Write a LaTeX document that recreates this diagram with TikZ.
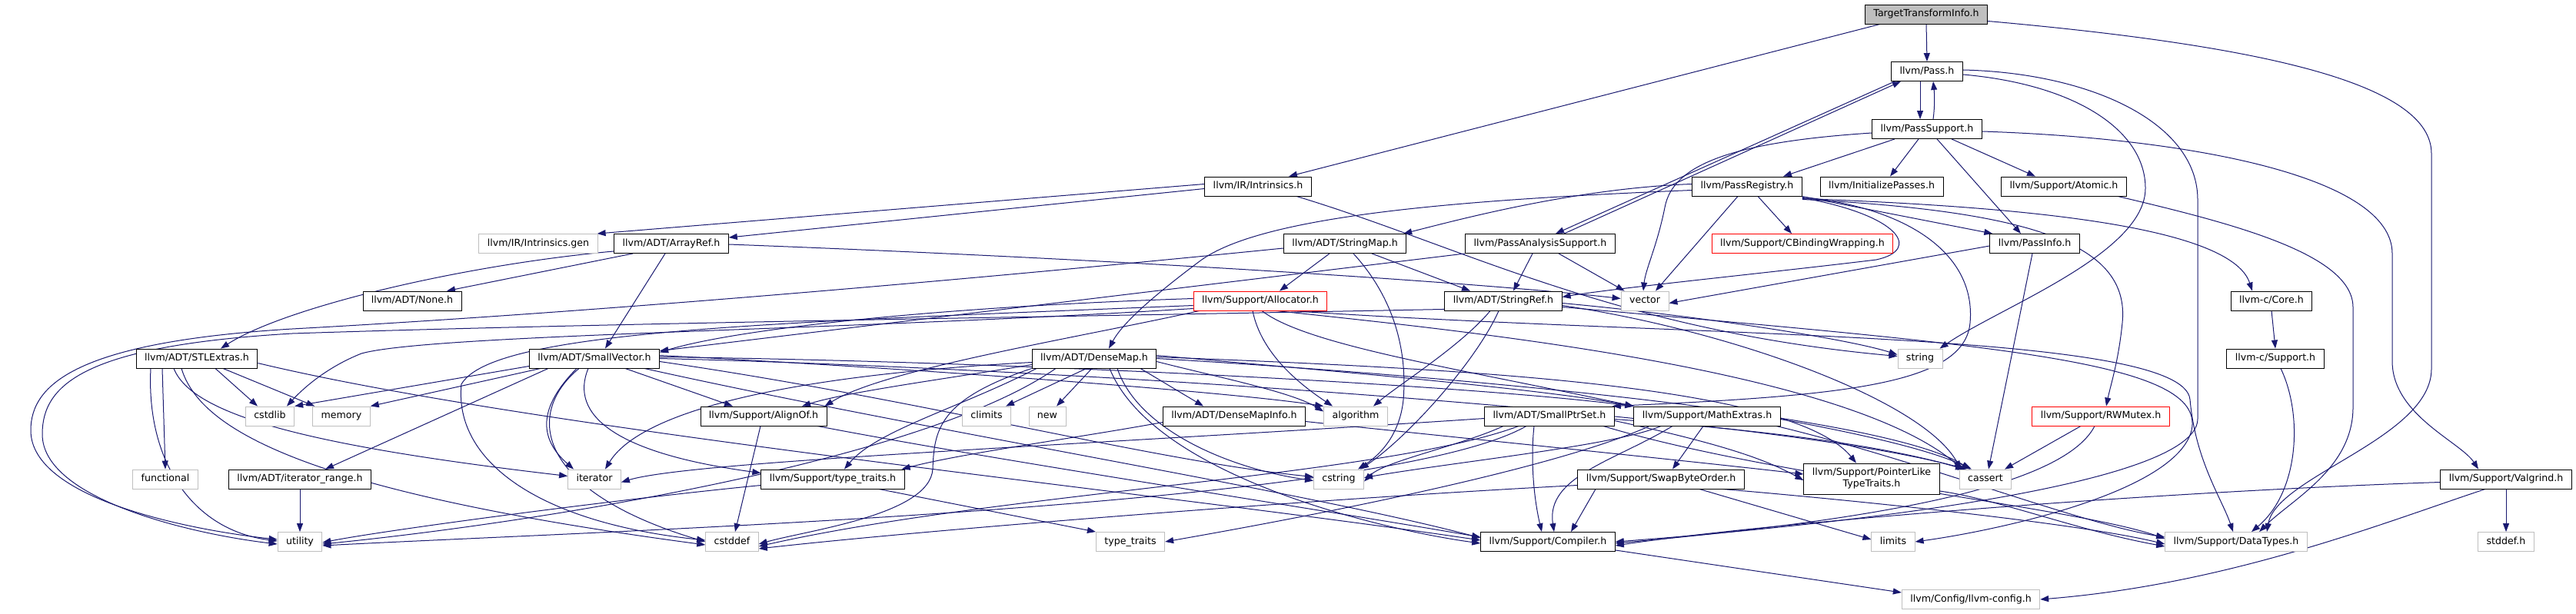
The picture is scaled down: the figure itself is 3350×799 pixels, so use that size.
\documentclass[tikz,border=0pt]{standalone}
\usepackage{fontspec}
\setmainfont{DejaVu Sans}
\usetikzlibrary{arrows.meta}
\definecolor{navy}{HTML}{191970}
\definecolor{sysgray}{HTML}{BFBFBF}
\pgfdeclarelayer{background}
\pgfsetlayers{background,main}
\tikzset{
  nodebase/.style={draw=black, line width=0.9pt, fill=white, inner xsep=11pt, inner ysep=0pt,
    minimum height=25pt, font=\fontsize{12.6}{15}\selectfont},
  nbox/.style={nodebase, text height=9.4pt, text depth=2.8pt},
  sbox/.style={nbox, draw=sysgray},
  rbox/.style={nbox, draw=red},
  e/.style={draw=navy, line width=1pt, -{Triangle[length=11pt,width=8pt]}}
}
\begin{document}
\begin{tikzpicture}[x=1pt,y=-1pt]
\useasboundingbox (0,0) rectangle (3350,799);
% nodes
\node[nbox, fill=sysgray] (tti) at (2505,18.5) {TargetTransformInfo.h};
\node[nbox] (pass) at (2506,93) {llvm/Pass.h};
\node[nbox] (passsupport) at (2506,168) {llvm/PassSupport.h};
\node[nbox] (intrinsics) at (1636,242.5) {llvm/IR/Intrinsics.h};
\node[nbox] (passregistry) at (2272,242.5) {llvm/PassRegistry.h};
\node[nbox] (initpasses) at (2447,242.5) {llvm/InitializePasses.h};
\node[nbox] (atomic) at (2684,242.5) {llvm/Support/Atomic.h};
\node[sbox] (intrgen) at (700,317) {llvm/IR/Intrinsics.gen};
\node[nbox] (arrayref) at (873,317) {llvm/ADT/ArrayRef.h};
\node[nbox] (stringmap) at (1749,317) {llvm/ADT/StringMap.h};
\node[nbox] (passanalysis) at (2003,317) {llvm/PassAnalysisSupport.h};
\node[rbox] (cbinding) at (2344,317) {llvm/Support/CBindingWrapping.h};
\node[nbox] (passinfo) at (2646,317) {llvm/PassInfo.h};
\node[nbox] (none) at (536,391.5) {llvm/ADT/None.h};
\node[rbox] (allocator) at (1639,391.5) {llvm/Support/Allocator.h};
\node[nbox] (stringref) at (1955,391.5) {llvm/ADT/StringRef.h};
\node[sbox] (vector) at (2139,391.5) {vector};
\node[nbox] (corec) at (2954,391.5) {llvm-c/Core.h};
\node[nbox] (stlextras) at (256,466.5) {llvm/ADT/STLExtras.h};
\node[nbox] (smallvector) at (773,466.5) {llvm/ADT/SmallVector.h};
\node[nbox] (densemap) at (1423,466.5) {llvm/ADT/DenseMap.h};
\node[sbox] (string) at (2497,466.5) {string};
\node[nbox] (supportc) at (2959,466.5) {llvm-c/Support.h};
\node[sbox] (cstdlib) at (351,541.5) {cstdlib};
\node[sbox] (memory) at (444,541.5) {memory};
\node[nbox] (alignof) at (993,541.5) {llvm/Support/AlignOf.h};
\node[sbox] (climits) at (1283,541.5) {climits};
\node[sbox] (new) at (1362,541.5) {new};
\node[nbox] (densemapinfo) at (1605,541.5) {llvm/ADT/DenseMapInfo.h};
\node[sbox] (algorithm) at (1763,541.5) {algorithm};
\node[nbox] (smallptrset) at (2015,541.5) {llvm/ADT/SmallPtrSet.h};
\node[nbox] (mathextras) at (2220,541.5) {llvm/Support/MathExtras.h};
\node[rbox] (rwmutex) at (2732,541.5) {llvm/Support/RWMutex.h};
\node[sbox] (functional) at (215,623.5) {functional};
\node[nbox] (iterrange) at (390,623.5) {llvm/ADT/iterator\_range.h};
\node[sbox] (iterator) at (773,623.5) {iterator};
\node[nbox] (typetraitsh) at (1083,623.5) {llvm/Support/type\_traits.h};
\node[sbox] (cstring) at (1741,623.5) {cstring};
\node[nbox] (swapbyte) at (2160,623.5) {llvm/Support/SwapByteOrder.h};
\node[nodebase, align=center, minimum height=40pt] (pointerlike) at (2434,623) {llvm/Support/PointerLike\\TypeTraits.h};
\node[sbox] (cassert) at (2582,623.5) {cassert};
\node[nbox] (valgrind) at (3259,623.5) {llvm/Support/Valgrind.h};
\node[sbox] (utility) at (390,705) {utility};
\node[sbox] (cstddef) at (952,705) {cstddef};
\node[sbox] (typetraits) at (1470,705) {type\_traits};
\node[nbox] (compiler) at (2013,705) {llvm/Support/Compiler.h};
\node[sbox] (limits) at (2462,705) {limits};
\node[sbox] (datatypes) at (2908,705) {llvm/Support/DataTypes.h};
\node[sbox] (stddef) at (3259,705) {stddef.h};
\node[sbox] (llvmconfig) at (2563,780) {llvm/Config/llvm-config.h};
\begin{pgfonlayer}{background}
\fill[white] (0,0) rectangle (3350,799);
% TargetTransformInfo
\draw[e] ([xshift=-60]tti.south) -- ([xshift=40]intrinsics.north);
\draw[e] (tti.south) -- (pass.north);
\draw[e] ([yshift=-9]tti.east) .. controls (2950,60) and (3162,110) .. (3162,200) -- (3162,480) .. controls (3162,570) and (2960,620) .. ([xshift=40]datatypes.north);
% Pass
\draw[e] ([xshift=-9]pass.south) -- ([xshift=-9]passsupport.north);
\draw[e] ([xshift=8]passsupport.north) .. controls (2516,140) and (2516,125) .. ([xshift=8]pass.south);
\draw[e] ([xshift=-42]pass.south) -- ([xshift=20]passanalysis.north);
\draw[e] ([xshift=31]passanalysis.north) -- ([xshift=-34]pass.south);
\draw[e] ([yshift=-4]pass.east) .. controls (2700,110) and (2790,170) .. (2790,245) .. controls (2790,330) and (2600,400) .. ([xshift=-4]string.north east);
\draw[e] ([yshift=2]pass.east) .. controls (2720,95) and (2858,160) .. (2858,260) -- (2858,545) .. controls (2858,640) and (2300,690) .. (compiler.east);
% PassSupport
\draw[e] ([xshift=-42]passsupport.south) -- ([xshift=47]passregistry.north);
\draw[e] ([xshift=-11]passsupport.south) -- ([xshift=11]initpasses.north);
\draw[e] ([xshift=13]passsupport.south) -- ([xshift=-18]passinfo.north);
\draw[e] ([xshift=32]passsupport.south) -- ([xshift=-37]atomic.north);
\draw[e] ([yshift=-3]passsupport.east) .. controls (2850,180) and (3111,230) .. (3111,330) -- (3111,470) .. controls (3111,540) and (3200,575) .. ([xshift=-36]valgrind.north);
\draw[e] ([yshift=-5]passsupport.west) .. controls (2250,185) and (2175,215) .. (2165,270) .. controls (2155,320) and (2140,350) .. ([xshift=-2]vector.north);
% Intrinsics
\draw[e] ([yshift=3]intrinsics.west) -- ([xshift=-1]intrgen.north east);
\draw[e] ([yshift=-3]intrinsics.west) -- ([yshift=-5]arrayref.north east);
\draw[e] ([xshift=50]intrinsics.south) .. controls (1900,320) and (2100,430) .. ([yshift=3]string.west);
% ArrayRef
\draw[e] ([xshift=-50]arrayref.south) -- ([xshift=45]none.north);
\draw[e] ([xshift=-8]arrayref.south) -- ([xshift=14]smallvector.north);
\draw[e] ([yshift=-1]arrayref.east) .. controls (1400,335) and (1900,365) .. ([yshift=3]vector.west);
\draw[e] ([yshift=3]arrayref.south west) .. controls (600,345) and (370,400) .. ([xshift=31]stlextras.north);
% StringMap
\draw[e] ([xshift=-20]stringmap.south) -- ([xshift=25]allocator.north);
\draw[e] ([xshift=35]stringmap.south) -- ([xshift=-43]stringref.north);
\draw[e] ([xshift=11]stringmap.south) .. controls (1815,390) and (1830,460) .. (1825,520) .. controls (1820,570) and (1790,595) .. ([xshift=25]cstring.north);
\draw[e] ([yshift=-6]stringmap.west) .. controls (1300,360) and (800,405) .. (380,428) .. controls (100,445) and (40,500) .. (40,560) .. controls (40,650) and (250,690) .. ([yshift=3]utility.west);
% PassAnalysisSupport
\draw[e] ([xshift=-10]passanalysis.south) -- ([xshift=13]stringref.north);
\draw[e] (passanalysis.south west) -- ([yshift=-3]smallvector.north east);
\draw[e] ([xshift=24]passanalysis.south) -- ([xshift=5]vector.north west);
% PassRegistry
\draw[e] ([xshift=14]passregistry.south) -- ([xshift=-14]cbinding.north);
\draw[e] ([xshift=-12]passregistry.south) -- ([xshift=14]vector.north);
\draw[e] ([xshift=-1]passregistry.south east) -- ([xshift=4]passinfo.north west);
\draw[e] ([yshift=3]passregistry.west) .. controls (2050,245) and (1900,285) .. ([xshift=-4]stringmap.north east);
\draw[e] ([yshift=-5]passregistry.west) .. controls (1900,260) and (1640,280) .. (1560,340) .. controls (1500,385) and (1460,420) .. ([xshift=19]densemap.north);
\draw[e] ([yshift=-3]passregistry.south east) .. controls (2600,268) and (2900,290) .. ([xshift=-25]corec.north);
\draw[e] ([yshift=-4]passregistry.south east) .. controls (2650,275) and (2770,320) .. (2760,420) .. controls (2755,470) and (2745,500) .. ([xshift=7]rwmutex.north);
\draw[e] ([yshift=-2]passregistry.south east) .. controls (2470,280) and (2500,325) .. (2440,338) .. controls (2300,355) and (2100,375) .. ([yshift=5]stringref.east);
\draw[e] ([yshift=-1]passregistry.south east) .. controls (2480,270) and (2570,330) .. (2562,420) .. controls (2555,500) and (2400,515) .. ([xshift=-3]smallptrset.north east);
% PassInfo
\draw[e] ([yshift=-3]passinfo.west) -- ([yshift=-3]vector.east);
\draw[e] ([xshift=-3]passinfo.south) -- ([xshift=4]cassert.north);
% Atomic, C API
\draw[e] ([xshift=70]atomic.south) .. controls (2900,290) and (3060,330) .. (3060,400) -- (3060,530) .. controls (3060,610) and (2980,650) .. ([xshift=30]datatypes.north);
\draw[e] (corec.south) -- (supportc.north);
\draw[e] ([xshift=7]supportc.south) .. controls (2995,540) and (2990,640) .. ([xshift=20]datatypes.north);
% Allocator
\draw[e] ([yshift=3]allocator.west) .. controls (1200,400) and (950,430) .. ([yshift=-5]smallvector.north east);
\draw[e] ([xshift=8]allocator.south west) .. controls (1400,440) and (1150,480) .. ([xshift=-3]alignof.north east);
\draw[e] ([xshift=-10]allocator.south) .. controls (1640,460) and (1690,500) .. ([xshift=-30]algorithm.north);
\draw[e] ([xshift=2]allocator.south) .. controls (1700,450) and (1900,480) .. (mathextras.north west);
\draw[e] ([xshift=20]allocator.south) .. controls (1900,430) and (2400,480) .. ([xshift=-30]cassert.north);
\draw[e] ([xshift=40]allocator.south) .. controls (2200,440) and (2840,430) .. (2848,520) .. controls (2855,600) and (2890,650) .. ([xshift=-4]datatypes.north);
\draw[e] ([yshift=-6]allocator.west) .. controls (1000,420) and (640,430) .. (600,500) .. controls (590,600) and (700,680) .. ([yshift=2]cstddef.west);
\draw[e] ([yshift=-10]allocator.west) .. controls (1100,430) and (560,435) .. (470,460) .. controls (420,480) and (390,510) .. ([xshift=22]cstdlib.north);
% SmallVector
\draw[e] ([yshift=-10]smallvector.west) -- (cstdlib.north east);
\draw[e] ([xshift=-70]smallvector.south) -- (memory.north east);
\draw[e] ([xshift=-60]smallvector.south) -- ([xshift=33]iterrange.north);
\draw[e] ([xshift=-23]smallvector.south) .. controls (700,530) and (700,570) .. ([xshift=-27]iterator.north);
\draw[e] ([xshift=-20]smallvector.south) .. controls (680,540) and (700,640) .. (cstddef.west);
\draw[e] ([xshift=-8]smallvector.south) .. controls (740,540) and (800,590) .. ([yshift=8]typetraitsh.west);
\draw[e] ([xshift=40]smallvector.south) -- ([xshift=-40]alignof.north);
\draw[e] ([yshift=4]smallvector.east) .. controls (1200,480) and (1600,510) .. (algorithm.north west);
\draw[e] ([yshift=2]smallvector.east) .. controls (1300,470) and (1900,500) .. (mathextras.north west);
\draw[e] (smallvector.east) .. controls (1400,480) and (2300,540) .. ([xshift=-25]cassert.north);
\draw[e] ([yshift=-4]smallvector.east) .. controls (1200,520) and (1500,600) .. ([yshift=3]cstring.west);
\draw[e] ([xshift=65]smallvector.south) .. controls (1200,560) and (1700,640) .. ([yshift=5]compiler.west);
% STLExtras
\draw[e] ([xshift=-45]stlextras.south) -- (functional.north);
\draw[e] ([xshift=24]stlextras.south) -- ([xshift=-16]cstdlib.north);
\draw[e] ([xshift=34]stlextras.south) -- ([xshift=3]memory.north west);
\draw[e] ([xshift=-30]stlextras.south) .. controls (250,540) and (400,580) .. ([yshift=4]iterator.west);
\draw[e] ([xshift=-20]stlextras.south) .. controls (260,560) and (400,640) .. ([yshift=-4]cstddef.west);
\draw[e] ([xshift=-60]stlextras.south) .. controls (190,600) and (250,690) .. ([yshift=1]utility.west);
\draw[e] ([yshift=-6]stlextras.east) .. controls (700,560) and (1500,640) .. ([yshift=2]compiler.west);
\draw[e] (iterrange.south) -- (utility.north);
% AlignOf
\draw[e] ([xshift=-4]alignof.south) -- ([xshift=4]cstddef.north);
\draw[e] ([xshift=70]alignof.south) .. controls (1300,600) and (1700,660) .. ([yshift=6]compiler.west);
% type_traits.h
\draw[e] ([xshift=60]typetraitsh.south) -- (typetraits.north west);
\draw[e] ([yshift=-8]typetraitsh.west) .. controls (800,650) and (500,690) .. ([yshift=-1]utility.east);
% DenseMap
\draw[e] ([xshift=-10]densemap.south) -- ([xshift=25]climits.north);
\draw[e] ([xshift=-3]densemap.south) -- ([xshift=12]new.north);
\draw[e] ([xshift=60]densemap.south) -- ([xshift=-40]densemapinfo.north);
\draw[e] ([yshift=-4]densemap.east) .. controls (1580,490) and (1680,510) .. ([yshift=6]algorithm.west);
\draw[e] ([xshift=30]densemap.south) .. controls (1480,560) and (1600,610) .. ([yshift=-2]cstring.west);
\draw[e] ([xshift=20]densemap.south) .. controls (1500,620) and (1800,690) .. ([yshift=-2]compiler.west);
\draw[e] (densemap.south west) .. controls (1220,520) and (1215,560) .. (1213,610) .. controls (1210,670) and (1050,690) .. ([yshift=-3]cstddef.east);
\draw[e] ([xshift=-75]densemap.south) .. controls (1250,530) and (1140,560) .. ([xshift=15]typetraitsh.north);
\draw[e] ([yshift=-5]densemap.west) .. controls (1000,490) and (830,540) .. ([xshift=14]iterator.north);
\draw[e] ([yshift=-8]densemap.west) .. controls (1250,490) and (1100,510) .. ([xshift=50]alignof.north);
\draw[e] ([xshift=-50]densemap.south) .. controls (1200,600) and (700,680) .. ([yshift=-3]utility.east);
\draw[e] ([yshift=4]densemap.east) .. controls (1700,480) and (2000,505) .. (mathextras.north west);
\draw[e] ([yshift=2]densemap.east) .. controls (1900,480) and (2330,500) .. ([xshift=-20]pointerlike.north);
\draw[e] (densemap.east) .. controls (1900,490) and (2450,540) .. ([xshift=-20]cassert.north);
% DenseMapInfo
\draw[e] ([yshift=-8]densemapinfo.west) .. controls (1400,570) and (1250,590) .. ([xshift=-4]typetraitsh.north east);
\draw[e] ([yshift=-7]densemapinfo.east) .. controls (1900,570) and (2200,600) .. ([yshift=6]pointerlike.west);
% SmallPtrSet
\draw[e] ([xshift=-20]smallptrset.south) .. controls (1990,600) and (1995,650) .. ([xshift=-8]compiler.north);
\draw[e] ([yshift=-3]smallptrset.west) .. controls (1400,580) and (900,600) .. ([yshift=-4]iterator.east);
\draw[e] ([xshift=-60]smallptrset.south) .. controls (1900,580) and (1800,600) .. ([yshift=-3]cstring.east);
\draw[e] ([xshift=-40]smallptrset.south) .. controls (1800,620) and (1300,640) .. ([yshift=-6]cstddef.east);
\draw[e] ([xshift=-30]smallptrset.south) .. controls (1800,660) and (800,690) .. ([yshift=-5]utility.east);
\draw[e] ([yshift=-4]smallptrset.east) .. controls (2300,560) and (2450,580) .. ([xshift=-28]cassert.north);
\draw[e] ([yshift=-6]smallptrset.east) .. controls (2250,580) and (2300,600) .. ([yshift=-2]pointerlike.west);
\draw[e] ([xshift=70]smallptrset.south) .. controls (2300,620) and (2700,660) .. ([yshift=4]datatypes.west);
% MathExtras
\draw[e] ([xshift=-5]mathextras.south) -- ([xshift=15]swapbyte.north);
\draw[e] ([xshift=-60]mathextras.south) .. controls (2100,580) and (1900,600) .. ([yshift=2]cstring.east);
\draw[e] ([xshift=-45]mathextras.south) .. controls (2100,600) and (2010,620) .. ([xshift=8]compiler.north);
\draw[e] ([xshift=-75]mathextras.south) .. controls (2000,620) and (1600,690) .. (typetraits.east);
\draw[e] ([yshift=-4]mathextras.east) .. controls (2450,570) and (2520,590) .. ([xshift=-18]cassert.north);
\draw[e] ([xshift=90]mathextras.south) .. controls (2500,600) and (2700,680) .. ([yshift=6]datatypes.west);
% SwapByteOrder
\draw[e] ([xshift=-85]swapbyte.south) -- ([xshift=30]compiler.north);
\draw[e] ([xshift=50]swapbyte.south) -- ([yshift=3]limits.west);
\draw[e] ([xshift=80]swapbyte.south) .. controls (2400,650) and (2700,680) .. ([yshift=-3]datatypes.west);
\draw[e] ([yshift=-8]swapbyte.west) .. controls (1700,650) and (1200,690) .. ([yshift=-9]cstddef.east);
% PointerLikeTypeTraits
\draw[e] ([yshift=-16]pointerlike.east) .. controls (2600,650) and (2700,690) .. ([yshift=-6]datatypes.west);
% RWMutex
\draw[e] ([xshift=-26]rwmutex.south) -- ([xshift=25]cassert.north);
\draw[e] ([xshift=-8]rwmutex.south) .. controls (2680,640) and (2400,680) .. ([yshift=-2]compiler.east);
% Valgrind
\draw[e] (valgrind.south) -- (stddef.north);
\draw[e] ([yshift=-4]valgrind.west) .. controls (2800,640) and (2300,680) .. ([yshift=-5]compiler.east);
\draw[e] ([xshift=-27]valgrind.south) .. controls (3100,680) and (2900,760) .. (llvmconfig.east);
% Compiler
\draw[e] ([yshift=2]compiler.south east) -- ([yshift=-4]llvmconfig.north west);
% StringRef
\draw[e] ([xshift=-17]stringref.south) .. controls (1900,450) and (1820,500) .. ([xshift=23]algorithm.north);
\draw[e] ([xshift=-6]stringref.south) .. controls (1920,470) and (1830,570) .. ([xshift=28]cstring.north);
\draw[e] ([yshift=-3]stringref.east) .. controls (2200,410) and (2400,440) .. ([yshift=5]string.west);
\draw[e] ([yshift=-6]stringref.east) .. controls (2250,430) and (2500,520) .. ([xshift=-32]cassert.north);
\draw[e] ([yshift=-8]stringref.east) .. controls (2600,450) and (2870,470) .. (2850,560) .. controls (2830,640) and (2600,690) .. (limits.east);
\draw[e] ([yshift=2]stringref.south west) .. controls (1400,412) and (800,420) .. (380,434) .. controls (110,450) and (55,500) .. (55,565) .. controls (55,650) and (250,695) .. ([yshift=-3]utility.west);
\end{pgfonlayer}
\end{tikzpicture}
\end{document}
